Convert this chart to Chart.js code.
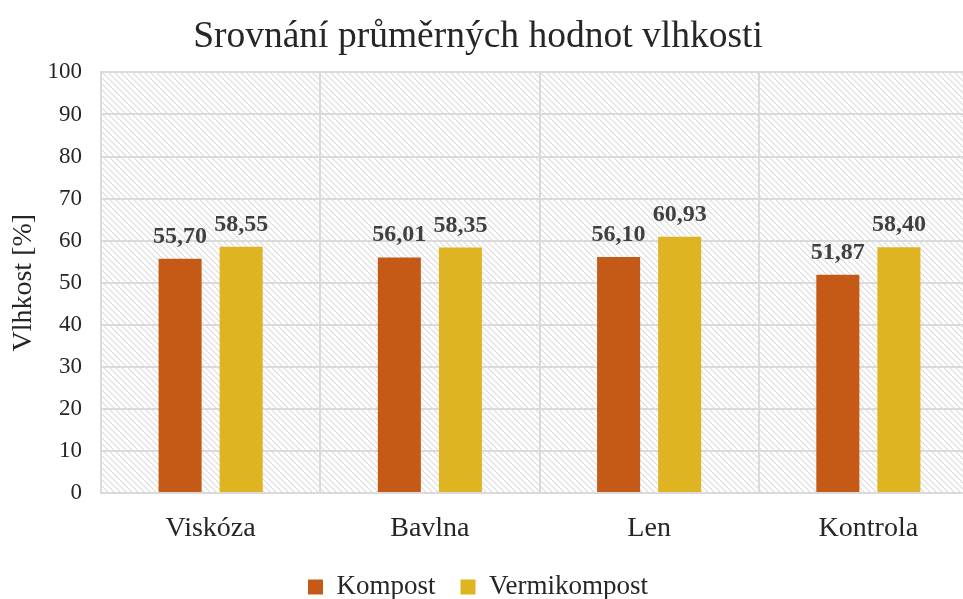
<!DOCTYPE html>
<html>
<head>
<meta charset="utf-8">
<script src="https://cdn.jsdelivr.net/npm/chart.js@4"></script>
<style>
  html, body { margin: 0; padding: 0; background: #fff; overflow: hidden; }
  #wrap { width: 978px; height: 599px; }
</style>
</head>
<body>
<div id="wrap"><canvas id="barChart"></canvas></div>
<script>
// data
const categories = ['Viskóza', 'Bavlna', 'Len', 'Kontrola'];
const kompost = [55.70, 56.01, 56.10, 51.87];
const vermikompost = [58.55, 58.35, 60.93, 58.40];
const seriesNames = ['Kompost', 'Vermikompost'];

const serif = "'Liberation Serif', 'DejaVu Serif', serif";

// diagonal hatch for the plot background
function makeHatch() {
    const c = document.createElement('canvas');
    c.width = 6; c.height = 6;
    const g = c.getContext('2d');
    g.fillStyle = '#ffffff';
    g.fillRect(0, 0, 6, 6);
    g.strokeStyle = '#dcdcdc';
    g.lineWidth = 1.2;
    g.beginPath();
    g.moveTo(0, 0); g.lineTo(6, 6);
    g.moveTo(-3, 3); g.lineTo(3, 9);
    g.moveTo(3, -3); g.lineTo(9, 3);
    g.stroke();
    return c;
}

const hatchBg = {
    id: 'hatchBg',
    beforeDraw(chart) {
        const { ctx, chartArea: a } = chart;
        ctx.save();
        ctx.fillStyle = ctx.createPattern(makeHatch(), 'repeat');
        ctx.fillRect(a.left, a.top, a.right - a.left, a.bottom - a.top);
        ctx.restore();
    }
};

// value labels above bars, czech decimal comma
const valueLabels = {
    id: 'valueLabels',
    afterDatasetsDraw(chart) {
        const ctx = chart.ctx;
        ctx.save();
        ctx.font = 'bold 24px ' + serif;
        ctx.fillStyle = '#404040';
        ctx.textAlign = 'center';
        ctx.textBaseline = 'alphabetic';
        chart.data.datasets.forEach((ds, i) => {
            chart.getDatasetMeta(i).data.forEach((bar, j) => {
                const txt = ds.data[j].toFixed(2).replace('.', ',');
                ctx.fillText(txt, bar.x, bar.y - 16);
            });
        });
        ctx.restore();
    }
};

const ctx = document.getElementById('barChart').getContext('2d');

new Chart(ctx, {
    type: 'bar',
    data: {
        labels: categories,
        datasets: [{
            label: seriesNames[0],
            data: kompost,
            backgroundColor: '#C55A17'
        }, {
            label: seriesNames[1],
            data: vermikompost,
            backgroundColor: '#DFB423'
        }]
    },
    options: {
        responsive: true,
        maintainAspectRatio: false,
        animation: false,
        categoryPercentage: 0.557,
        barPercentage: 0.705,
        layout: {
            padding: { left: -22, right: 0, top: 0, bottom: -11.5 }
        },
        plugins: {
            title: {
                display: true,
                text: 'Srovnání průměrných hodnot vlhkosti',
                color: '#262626',
                font: { family: serif, size: 37.5, weight: 'normal' },
                padding: { top: 15, bottom: 12.4 }
            },
            legend: {
                position: 'bottom',
                labels: {
                    color: '#262626',
                    font: { family: serif, size: 27 },
                    boxWidth: 15,
                    boxHeight: 15,
                    padding: 25
                }
            },
            tooltip: { enabled: false }
        },
        scales: {
            x: {
                grid: { color: '#dadada', lineWidth: 2, drawTicks: false, offset: true },
                border: { color: '#dadada', width: 2 },
                ticks: {
                    color: '#262626',
                    font: { family: serif, size: 28 },
                    padding: 19
                },
                afterFit(scale) { scale.height = 55.5; }
            },
            y: {
                min: 0,
                max: 100,
                grid: { color: '#dadada', lineWidth: 2, drawTicks: false },
                border: { color: '#dadada', width: 2 },
                ticks: {
                    stepSize: 10,
                    color: '#262626',
                    font: { family: serif, size: 23 },
                    padding: 19
                },
                title: {
                    display: true,
                    text: 'Vlhkost [%]',
                    color: '#262626',
                    font: { family: serif, size: 28 },
                    padding: { top: 28.7, bottom: 0 }
                },
                afterFit(scale) { scale.width = 123; }
            }
        }
    },
    plugins: [hatchBg, valueLabels]
});
</script>
</body>
</html>
